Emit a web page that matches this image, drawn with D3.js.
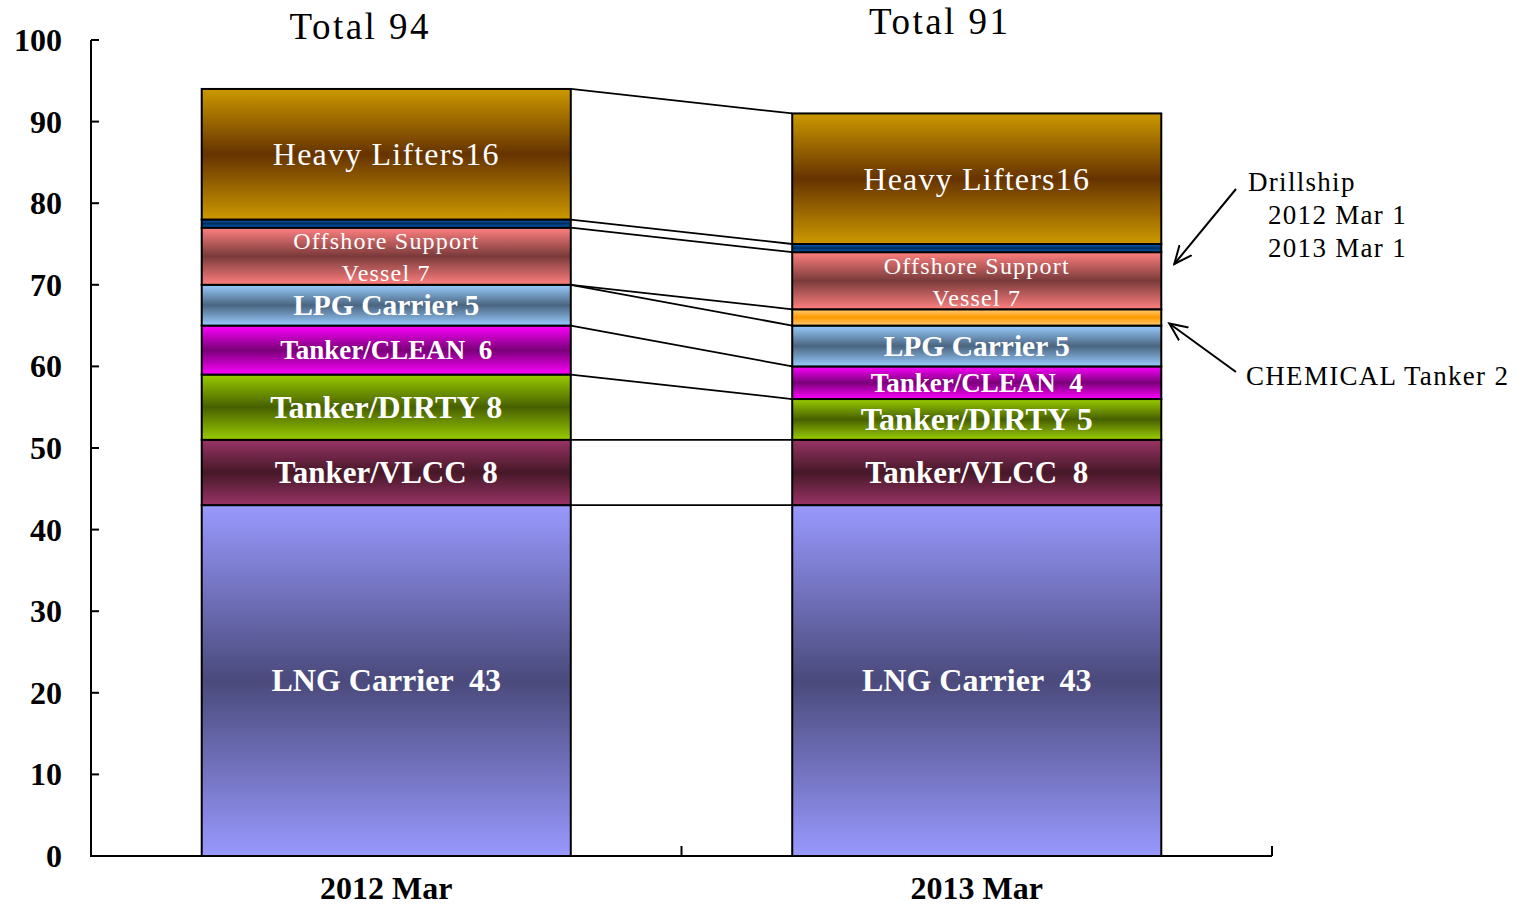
<!DOCTYPE html>
<html>
<head>
<meta charset="utf-8">
<script src="https://cdn.jsdelivr.net/npm/d3@7"></script>
<style>
  body { margin: 0; background: #fff; }
  svg { display: block; }
  .tick-label { font-family: "Liberation Serif", "Times New Roman", serif; font-weight: bold; font-size: 32px; fill: #000; }
  .bold-label { font-family: "Liberation Serif", "Times New Roman", serif; font-weight: bold; fill: #fff; }
  .min-label { font-family: "Liberation Serif", "DejaVu Serif", serif; fill: #fff; letter-spacing: 1.2px; }
  .note { font-family: "Liberation Serif", serif; font-size: 27px; fill: #000; letter-spacing: 1.3px; }
  .total { font-family: "Liberation Serif", serif; font-size: 37px; fill: #000; letter-spacing: 2.5px; }
</style>
</head>
<body>
<div id="chart"></div>
<script>
// ***************数据*******************
const categories = ['2012 Mar', '2013 Mar'];
const seriesKeys = ['LNG Carrier', 'Tanker/VLCC', 'Tanker/DIRTY', 'Tanker/CLEAN', 'LPG Carrier',
    'CHEMICAL Tanker', 'Offshore Support Vessel', 'Drillship', 'Heavy Lifters'];
const values2012 = [43, 8, 8, 6, 5, 0, 7, 1, 16];
const values2013 = [43, 8, 5, 4, 5, 2, 7, 1, 16];
const totals = [94, 91];
const yTicks = [0, 10, 20, 30, 40, 50, 60, 70, 80, 90, 100];

// 渐变色 (边缘, 中间)
const colors = {
    'LNG Carrier': ['#9999ff', '#4a4a7c'],
    'Tanker/VLCC': ['#993366', '#461828'],
    'Tanker/DIRTY': ['#99cc00', '#476000'],
    'Tanker/CLEAN': ['#ff00ff', '#7a0078'],
    'LPG Carrier': ['#99ccff', '#4a6580'],
    'CHEMICAL Tanker': ['#ffcc77', '#ff9900'],
    'Offshore Support Vessel': ['#ff8080', '#7a3a3a'],
    'Drillship': ['#0066cc', '#002a55'],
    'Heavy Lifters': ['#cc9900', '#663300']
};

const width = 1525;
const height = 908;
const paddingTop = 40;
const paddingBottom = 52;
const paddingLeft = 91;
const paddingRight = 253;

const rows = categories.map((c, i) => {
    const src = i === 0 ? values2012 : values2013;
    const row = { category: c };
    seriesKeys.forEach((k, j) => { row[k] = src[j]; });
    return row;
});
const stacked = d3.stack().keys(seriesKeys)(rows);

/****************************** 比例尺 ***************************************/
const xScale = d3.scaleBand()
    .domain(categories)
    .range([paddingLeft, width - paddingRight])
    .padding(0);
const barWidth = xScale.bandwidth() * 0.625;
const barX = (c) => xScale(c) + (xScale.bandwidth() - barWidth) / 2;
const yScale = d3.scaleLinear()
    .domain([0, 100])
    .range([height - paddingBottom, paddingTop]);

const svg = d3.select('#chart').append('svg')
    .attr('width', width)
    .attr('height', height);

// 渐变
const defs = svg.append('defs');
seriesKeys.forEach((k, i) => {
    const g = defs.append('linearGradient')
        .attr('id', 'grad' + i)
        .attr('x1', 0).attr('x2', 0).attr('y1', 0).attr('y2', 1);
    g.append('stop').attr('offset', '0%').attr('stop-color', colors[k][0]);
    g.append('stop').attr('offset', '50%').attr('stop-color', colors[k][1]);
    g.append('stop').attr('offset', '100%').attr('stop-color', colors[k][0]);
});

// ***************系列线***************
const x0 = barX(categories[0]) + barWidth;
const x1 = barX(categories[1]);
svg.append('g').selectAll('line')
    .data(stacked)
    .enter()
    .append('line')
    .attr('x1', x0)
    .attr('x2', x1)
    .attr('y1', (s) => yScale(s[0][1]))
    .attr('y2', (s) => yScale(s[1][1]))
    .attr('stroke', '#000')
    .attr('stroke-width', 1.8);

// ***************矩形图******************
const layers = svg.append('g').selectAll('g')
    .data(stacked)
    .enter()
    .append('g')
    .attr('fill', (s, i) => `url(#grad${i})`);

layers.selectAll('rect')
    .data((s) => s.filter((d) => d[1] > d[0]))
    .enter()
    .append('rect')
    .attr('x', (d) => barX(d.data.category))
    .attr('width', barWidth)
    .attr('y', (d) => yScale(d[1]))
    .attr('height', (d) => yScale(d[0]) - yScale(d[1]))
    .attr('stroke', '#000')
    .attr('stroke-width', 2);

// 标签
const labelGroup = svg.append('g');
stacked.forEach((s) => {
    const key = s.key;
    if (key === 'CHEMICAL Tanker' || key === 'Drillship') return;
    s.forEach((d) => {
        const cx = xScale(d.data.category) + xScale.bandwidth() / 2;
        const cy = (yScale(d[0]) + yScale(d[1])) / 2;
        const v = d.data[key];
        if (key === 'Heavy Lifters') {
            labelGroup.append('text').attr('class', 'min-label')
                .attr('x', cx).attr('y', cy + 11).attr('text-anchor', 'middle')
                .style('font-size', '32px')
                .text(`${key}${v}`);
        } else if (key === 'Offshore Support Vessel') {
            labelGroup.append('text').attr('class', 'min-label')
                .attr('x', cx).attr('y', cy - 7).attr('text-anchor', 'middle')
                .style('font-size', '24px')
                .text('Offshore Support');
            labelGroup.append('text').attr('class', 'min-label')
                .attr('x', cx).attr('y', cy + 25).attr('text-anchor', 'middle')
                .style('font-size', '24px')
                .text(`Vessel ${v}`);
        } else {
            let size = 32;
            let txt = `${key} ${v}`;
            if (key === 'Tanker/CLEAN') { size = 27; txt = `${key}  ${v}`; }
            if (key === 'Tanker/VLCC') { size = 31; txt = `${key}  ${v}`; }
            if (key === 'LNG Carrier') { size = 32; txt = `${key}  ${v}`; }
            if (key === 'LPG Carrier') size = 29.5;
            labelGroup.append('text').attr('class', 'bold-label')
                .attr('x', cx).attr('y', cy + size * 0.34).attr('text-anchor', 'middle')
                .style('font-size', size + 'px')
                .style('white-space', 'pre')
                .attr('xml:space', 'preserve')
                .text(txt);
        }
    });
});

// ***************坐标轴***************
const axisG = svg.append('g');
axisG.append('line')
    .attr('x1', paddingLeft).attr('x2', paddingLeft)
    .attr('y1', yScale(100)).attr('y2', yScale(0) + 1)
    .attr('stroke', '#000').attr('stroke-width', 2);
axisG.append('line')
    .attr('x1', paddingLeft - 1).attr('x2', width - paddingRight)
    .attr('y1', yScale(0)).attr('y2', yScale(0))
    .attr('stroke', '#000').attr('stroke-width', 2);
axisG.selectAll('.ytick')
    .data(yTicks)
    .enter()
    .append('line')
    .attr('x1', paddingLeft).attr('x2', paddingLeft + 8)
    .attr('y1', (d) => yScale(d)).attr('y2', (d) => yScale(d))
    .attr('stroke', '#000').attr('stroke-width', 2);
axisG.selectAll('.ylabel')
    .data(yTicks)
    .enter()
    .append('text')
    .attr('class', 'tick-label')
    .attr('x', 62)
    .attr('y', (d) => yScale(d) + 11)
    .attr('text-anchor', 'end')
    .text((d) => d);
// x 刻度 (分隔线)
const xBounds = [xScale(categories[1]), width - paddingRight];
axisG.selectAll('.xtick')
    .data(xBounds)
    .enter()
    .append('line')
    .attr('x1', (d) => d).attr('x2', (d) => d)
    .attr('y1', yScale(0)).attr('y2', yScale(0) - 10)
    .attr('stroke', '#000').attr('stroke-width', 2);
axisG.selectAll('.xlabel')
    .data(categories)
    .enter()
    .append('text')
    .attr('class', 'tick-label')
    .style('font-size', '32px')
    .attr('x', (d) => xScale(d) + xScale.bandwidth() / 2)
    .attr('y', 899)
    .attr('text-anchor', 'middle')
    .text((d) => d);

// 合计
svg.selectAll('.total')
    .data(categories)
    .enter()
    .append('text')
    .attr('class', 'total')
    .attr('x', (d, i) => xScale(d) + xScale.bandwidth() / 2 + (i === 0 ? -26 : -37))
    .attr('y', (d, i) => (i === 0 ? 39 : 34))
    .attr('text-anchor', 'middle')
    .text((d, i) => `Total ${totals[i]}`);

// 注释
defs.append('marker')
    .attr('id', 'arrow')
    .attr('viewBox', '0 0 20 20')
    .attr('refX', 18).attr('refY', 10)
    .attr('markerWidth', 20).attr('markerHeight', 20)
    .attr('markerUnits', 'userSpaceOnUse')
    .attr('orient', 'auto')
    .append('path')
    .attr('d', 'M0,2 L18,10 L0,18')
    .attr('fill', 'none')
    .attr('stroke', '#000')
    .attr('stroke-width', 2);

const barRight = barX(categories[1]) + barWidth;
const drillTop = yScale(stacked[7][1][1]);
const chemMid = yScale((stacked[5][1][0] + stacked[5][1][1]) / 2);
svg.append('line')
    .attr('x1', 1236).attr('y1', 189)
    .attr('x2', barRight + 13).attr('y2', drillTop + 20)
    .attr('stroke', '#000').attr('stroke-width', 2)
    .attr('marker-end', 'url(#arrow)');
svg.append('line')
    .attr('x1', 1236).attr('y1', 372)
    .attr('x2', barRight + 8).attr('y2', chemMid + 6)
    .attr('stroke', '#000').attr('stroke-width', 2)
    .attr('marker-end', 'url(#arrow)');

svg.append('text').attr('class', 'note').attr('x', 1248).attr('y', 191)
    .text(seriesKeys[7]);
svg.append('text').attr('class', 'note').attr('x', 1268).attr('y', 224)
    .text(`${categories[0]}  ${values2012[7]}`);
svg.append('text').attr('class', 'note').attr('x', 1268).attr('y', 257)
    .text(`${categories[1]}  ${values2013[7]}`);
svg.append('text').attr('class', 'note').attr('x', 1246).attr('y', 385)
    .text(`${seriesKeys[5]} ${values2013[5]}`);
</script>
</body>
</html>
